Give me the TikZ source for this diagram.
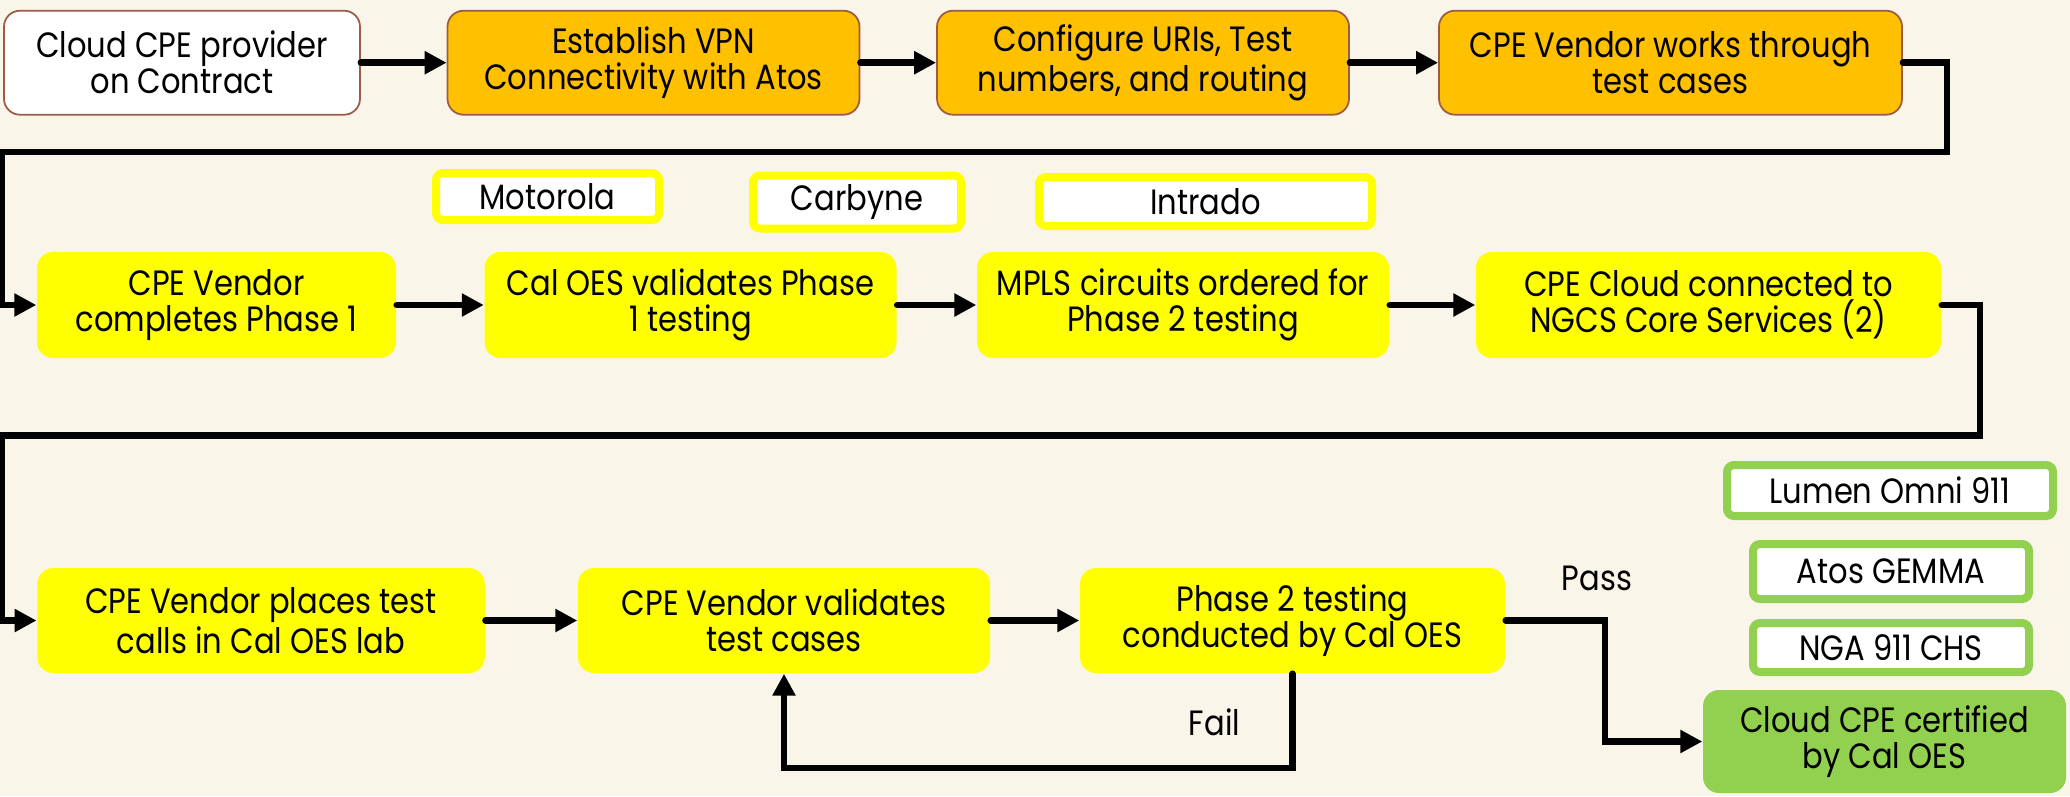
\documentclass[tikz,border=0pt]{standalone}
\usepackage{fontspec}
\setmainfont{Poppins}[FakeStretch=0.87]
\usepackage{tikz}
\usetikzlibrary{positioning,arrows.meta}

\definecolor{bgcream}{HTML}{F9F5E9}
\definecolor{orangefill}{HTML}{FFC000}
\definecolor{edgebrown}{HTML}{9C5B45}
\definecolor{yellowfill}{HTML}{FFFF00}
\definecolor{greenfill}{HTML}{92D050}

\tikzset{
  procbox/.style={rounded corners=0.16cm, minimum height=1.04cm, align=center,
    inner sep=0pt, font=\fontsize{10}{10.2}\selectfont},
  whitebox/.style={procbox, fill=white, draw=edgebrown, line width=0.5pt},
  orangebox/.style={procbox, fill=orangefill, draw=edgebrown, line width=0.5pt},
  yellowbox/.style={procbox, fill=yellowfill},
  greenbox/.style={procbox, fill=greenfill},
  tagbox/.style={rounded corners=0.07cm, fill=white, line width=0.08cm,
    inner sep=0pt, font=\fontsize{10}{10.2}\selectfont},
  flow/.style={line width=0.065cm, line cap=round,
    -{Triangle[length=0.22cm, width=0.22cm]}},
  flowlabel/.style={font=\fontsize{10}{10.2}\selectfont},
}

\begin{document}
\begin{tikzpicture}

\newcommand\rowA{-0.627};
\newcommand\rowB{-3.05};
\newcommand\rowC{-6.205};

% canvas
\fill[bgcream] (0,0) rectangle (20.7,-7.96);
\useasboundingbox (0,0) rectangle (20.7,-7.96);

% Row 1
\node [whitebox, minimum width=3.56cm] (provider) at (1.82, \rowA) {
Cloud CPE provider\\
on Contract
};
\node [orangebox, minimum width=4.12cm] (vpn) at (6.535, \rowA) {
Establish VPN\\
Connectivity with Atos
};
\node [orangebox, minimum width=4.12cm] (configure) at (11.43, \rowA) {
Configure URIs, Test\\
numbers, and routing
};
\node [orangebox, minimum width=4.63cm] (vendor_works) at (16.705, \rowA) {
CPE Vendor works through\\
test cases
};

% Row 2
\node [yellowbox, minimum width=3.59cm, minimum height=1.06cm] (vendor_phase1) at (2.165, \rowB) {
CPE Vendor\\
completes Phase 1
};
\node [yellowbox, minimum width=4.12cm, minimum height=1.06cm] (oes_validates) at (6.905, \rowB) {
Cal OES validates Phase\\
1 testing
};
\node [yellowbox, minimum width=4.12cm, minimum height=1.06cm] (mpls) at (11.83, \rowB) {
MPLS circuits ordered for\\
Phase 2 testing
};
\node [yellowbox, minimum width=4.65cm, minimum height=1.06cm] (core_services) at (17.085, \rowB) {
CPE Cloud connected to\\
NGCS Core Services (2)
};

% Vendors over row 2
\node [tagbox, draw=yellowfill, minimum width=2.23cm, minimum height=0.47cm] (motorola) at (5.475, -1.965) {Motorola};
\node [tagbox, draw=yellowfill, minimum width=2.08cm, minimum height=0.53cm] (carbyne) at (8.57, -2.02) {Carbyne};
\node [tagbox, draw=yellowfill, minimum width=3.33cm, minimum height=0.49cm] (intrado) at (12.055, -2.015) {Intrado};

% Row 3
\node [yellowbox, minimum width=4.475cm, minimum height=1.05cm] (vendor_calls) at (2.61, \rowC) {
CPE Vendor places test\\
calls in Cal OES lab
};
\node [yellowbox, minimum width=4.12cm, minimum height=1.05cm] (vendor_validates) at (7.84, \rowC) {
CPE Vendor validates\\
test cases
};
\node [yellowbox, minimum width=4.25cm, minimum height=1.05cm] (phase2_test) at (12.925, \rowC) {
Phase 2 testing\\
conducted by Cal OES
};

% Certified
\node [greenbox, minimum width=3.63cm, minimum height=1.03cm] (certified) at (18.845, -7.415) {
Cloud CPE certified\\
by Cal OES
};

% Certified solutions
\node [tagbox, draw=greenfill, minimum width=3.26cm, minimum height=0.51cm] (lumen) at (18.9, -4.905) {Lumen Omni 911};
\node [tagbox, draw=greenfill, minimum width=2.76cm, minimum height=0.55cm] (gemma) at (18.91, -5.715) {Atos GEMMA};
\node [tagbox, draw=greenfill, minimum width=2.76cm, minimum height=0.49cm] (nga) at (18.91, -6.475) {NGA 911 CHS};

% Turn points
\coordinate (wrapA_right) at (19.47, -1.52);
\coordinate (wrapA_left) at (0.02, -1.52);
\coordinate (wrapB_right) at (19.8, -4.357);
\coordinate (wrapB_left) at (0.02, -4.357);
\coordinate (pass_turn) at (16.05, -6.9);
\coordinate (fail_low) at (0, -7.68);

% Arrows
\draw[flow] (provider) -- (vpn);
\draw[flow] (vpn) -- (configure);
\draw[flow] (configure) -- (vendor_works);
\draw[flow] (vendor_works.east) -| (wrapA_right) -- (wrapA_left) |- (vendor_phase1.west);

\draw[flow] (vendor_phase1) -- (oes_validates);
\draw[flow] (oes_validates) -- (mpls);
\draw[flow] (mpls) -- (core_services);
\draw[flow] (core_services.east) -| (wrapB_right) -- (wrapB_left) |- (vendor_calls.west);

\draw[flow] (vendor_calls) -- (vendor_validates);
\draw[flow] (vendor_validates) -- (phase2_test);
\draw[flow] (phase2_test.east) -| (pass_turn) |- (certified.west);
\draw[flow] (phase2_test.south) -- (phase2_test.south |- fail_low) -| (vendor_validates.south);

\node[flowlabel] (pass) at (15.97, -5.78) {Pass};
\node[flowlabel] (fail) at (12.145, -7.22) {Fail};

\end{tikzpicture}
\end{document}
